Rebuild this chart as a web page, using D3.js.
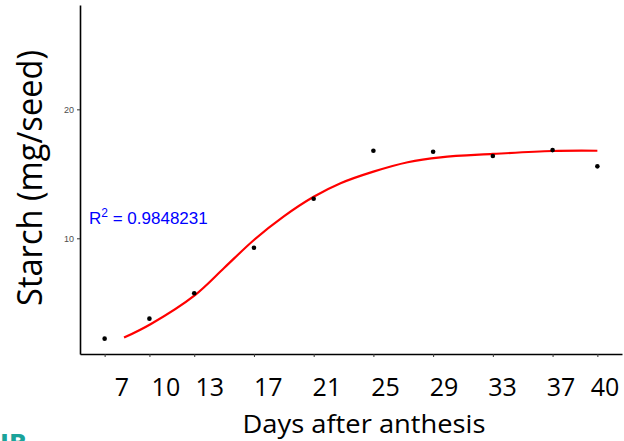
<!DOCTYPE html>
<html>
<head>
<meta charset="utf-8">
<script src="https://cdn.jsdelivr.net/npm/d3@7"></script>
<style>
  html, body { margin: 0; padding: 0; background: #fff; }
  svg { display: block; }
</style>
</head>
<body>
<svg id="chart" width="624" height="441"></svg>
<script>
var svg = d3.select("#chart");

// measured starch per seed
var days = [7, 10, 13, 17, 21, 25, 29, 33, 37, 40];
var starch = [2.22, 3.77, 5.74, 9.27, 13.07, 16.79, 16.71, 16.38, 16.84, 15.58];

// fitted curve
var fitDays = [8.3, 10.1, 13.05, 15, 17, 19, 21, 22.8, 25, 27.3, 29.5, 33, 37, 40];
var fitStarch = [2.30, 3.36, 5.60, 7.7, 9.87, 11.7, 13.22, 14.27, 15.17, 15.9, 16.28, 16.54, 16.77, 16.79];

var yTicks = [10, 20];
var dayLabels = ["7", "10", "13", "17", "21", "25", "29", "33", "37", "40"];
var r2Text = "0.9848231";

var xScale = d3.scaleLinear().domain([5.35, 41.65]).range([80, 622]);
var yScale = d3.scaleLinear().domain([1.03, 28.09]).range([354, 5]);

// labels sit a bit off the tick marks in the original
var labelScale = d3.scaleLinear().domain([7, 40]).range([122, 605]);

// axes
var bottomAxis = d3.axisBottom(xScale).tickValues(days).tickFormat("").tickSize(3).tickSizeOuter(0);
var gx = svg.append("g")
  .attr("transform", "translate(0,354)")
  .call(bottomAxis);
gx.select(".domain").attr("stroke", "#000").attr("stroke-width", 1.6);
gx.selectAll(".tick line").attr("stroke", "#333").attr("stroke-width", 1);

var leftAxis = d3.axisLeft(yScale).tickValues(yTicks).tickSize(3).tickSizeOuter(0);
var gy = svg.append("g")
  .attr("transform", "translate(80,0)")
  .call(leftAxis);
gy.select(".domain").attr("stroke", "#000").attr("stroke-width", 1.6);
gy.selectAll(".tick line").attr("stroke", "#333");
gy.selectAll(".tick text")
  .attr("fill", "#4d4d4d")
  .style("font-family", "Liberation Sans, Arial, sans-serif")
  .style("font-size", "9px");

// day labels
svg.selectAll("text.day")
  .data(dayLabels)
  .enter().append("text")
  .attr("class", "day")
  .attr("x", function (d) { return labelScale(+d); })
  .attr("y", 396)
  .attr("text-anchor", "middle")
  .style("font-family", "Open Sans, sans-serif")
  .style("font-size", "25px")
  .attr("fill", "#000")
  .text(function (d) { return d; });

// axis titles
svg.append("text")
  .attr("x", 364)
  .attr("y", 433)
  .attr("text-anchor", "middle")
  .style("font-family", "Open Sans, sans-serif")
  .style("font-size", "25px")
  .attr("textLength", 243)
  .attr("lengthAdjust", "spacingAndGlyphs")
  .text("Days after anthesis");

svg.append("text")
  .attr("transform", "translate(42,178)rotate(-90)")
  .attr("text-anchor", "middle")
  .style("font-family", "Open Sans, sans-serif")
  .style("font-size", "34px")
  .attr("textLength", 256)
  .attr("lengthAdjust", "spacingAndGlyphs")
  .text("Starch (mg/seed)");

// fitted curve
var line = d3.line()
  .x(function (d) { return xScale(d[0]); })
  .y(function (d) { return yScale(d[1]); })
  .curve(d3.curveCatmullRom.alpha(0.5));

svg.append("path")
  .datum(d3.zip(fitDays, fitStarch))
  .attr("d", line)
  .attr("fill", "none")
  .attr("stroke", "#ff0000")
  .attr("stroke-width", 2.2);

// points
svg.selectAll("circle.pt")
  .data(d3.zip(days, starch))
  .enter().append("circle")
  .attr("class", "pt")
  .attr("cx", function (d) { return xScale(d[0]); })
  .attr("cy", function (d) { return yScale(d[1]); })
  .attr("r", 2.3)
  .attr("fill", "#000");

// R squared label
var r2 = svg.append("text")
  .attr("x", 89)
  .attr("y", 224)
  .style("font-family", "Liberation Sans, Arial, sans-serif")
  .style("font-size", "17px")
  .attr("fill", "#0000ff");
r2.append("tspan").text("R");
r2.append("tspan").attr("dy", -7).style("font-size", "12px").text("2");
r2.append("tspan").attr("dy", 7).text(" = " + r2Text);

// cut-off logo fragment at the bottom left
svg.append("text")
  .attr("x", 0)
  .attr("y", 452)
  .style("font-family", "DejaVu Sans, sans-serif")
  .style("font-weight", "bold")
  .style("font-size", "24px")
  .attr("fill", "#1aa39a")
  .text("IB");
</script>
</body>
</html>
